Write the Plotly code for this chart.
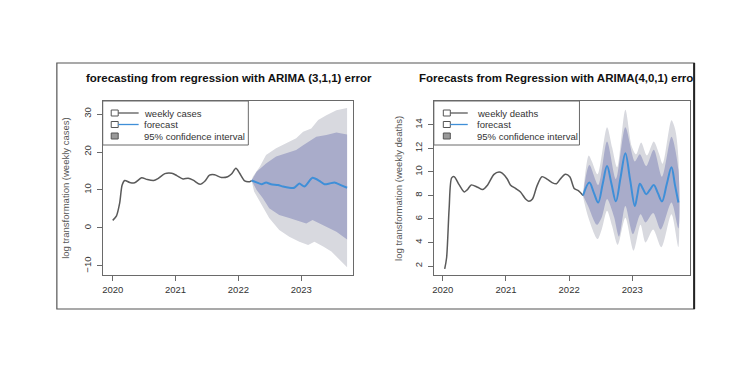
import plotly.graph_objects as go

# ---------------- data (decimal year, log value) ----------------
# Left panel: weekly cases
cases_t = [2020.00, 2020.06, 2020.11, 2020.15, 2020.19, 2020.27, 2020.35, 2020.46, 2020.54,
           2020.65, 2020.72, 2020.83, 2020.94, 2021.02, 2021.12, 2021.20, 2021.28, 2021.39,
           2021.47, 2021.54, 2021.62, 2021.73, 2021.83, 2021.89, 2021.96, 2022.02, 2022.10,
           2022.18, 2022.21]
cases_v = [2.0, 3.2, 6.5, 11.3, 12.5, 12.0, 11.9, 13.2, 12.8,
           12.5, 13.0, 14.3, 14.4, 13.8, 12.9, 13.1, 12.6, 11.5,
           12.4, 13.9, 14.0, 13.3, 13.5, 14.2, 15.7, 14.4, 12.4,
           12.2, 12.5]

cases_fc_t = [2022.21, 2022.29, 2022.37, 2022.44, 2022.52, 2022.63, 2022.71, 2022.81, 2022.89,
              2022.97, 2023.05, 2023.18, 2023.29, 2023.37, 2023.45, 2023.53, 2023.63, 2023.73]
cases_fc_v = [12.5, 12.0, 11.5, 12.0, 11.5, 11.3, 10.9, 10.6, 10.6,
              11.7, 10.9, 13.2, 12.4, 11.5, 11.7, 12.0, 11.3, 10.6]

cases_hi95_t = [2022.21, 2022.23, 2022.34, 2022.44, 2022.60, 2022.76, 2022.92, 2023.03, 2023.16,
                2023.27, 2023.40, 2023.56, 2023.73]
cases_hi95_v = [12.5, 13.5, 16.1, 19.2, 21.0, 22.3, 23.6, 25.3, 26.2, 28.4, 29.7, 31.0, 31.6]
cases_lo95_t = [2022.21, 2022.25, 2022.37, 2022.49, 2022.65, 2022.81, 2022.97, 2023.11, 2023.21,
                2023.35, 2023.48, 2023.62, 2023.73]
cases_lo95_v = [12.5, 9.6, 6.1, 2.6, -0.5, -2.3, -3.6, -4.5, -3.6, -4.9, -6.2, -8.4, -10.3]

cases_hi80_t = [2022.21, 2022.29, 2022.44, 2022.60, 2022.76, 2022.92, 2023.03, 2023.13, 2023.24,
                2023.40, 2023.56, 2023.73]
cases_hi80_v = [12.5, 14.8, 17.0, 18.8, 19.7, 20.5, 21.8, 22.9, 24.0, 24.5, 25.1, 24.6]
cases_lo80_t = [2022.21, 2022.29, 2022.39, 2022.49, 2022.65, 2022.81, 2022.97, 2023.08, 2023.18,
                2023.29, 2023.40, 2023.56, 2023.73]
cases_lo80_v = [12.5, 10.0, 7.8, 5.2, 3.4, 2.6, 1.7, 1.2, 2.1, 1.2, 0.3, -1.0, -3.0]

# Right panel: weekly deaths
deaths_t = [2020.03, 2020.06, 2020.10, 2020.14, 2020.18, 2020.26, 2020.34, 2020.39, 2020.45,
            2020.55, 2020.63, 2020.71, 2020.81, 2020.89, 2020.94, 2021.02, 2021.07, 2021.15,
            2021.23, 2021.31, 2021.36, 2021.42, 2021.49, 2021.57, 2021.65, 2021.73, 2021.80,
            2021.86, 2021.94, 2022.01, 2022.08, 2022.15, 2022.22]
deaths_v = [1.75, 2.7, 6.9, 9.5, 9.6, 8.9, 8.3, 8.5, 8.9,
            8.7, 8.5, 8.9, 9.8, 10.0, 9.9, 9.4, 8.9, 8.6,
            8.3, 7.7, 7.5, 7.7, 8.8, 9.6, 9.4, 9.1, 9.0,
            9.4, 9.8, 9.6, 8.6, 8.4, 8.0]

deaths_fc_t = [2022.22, 2022.32, 2022.39, 2022.46, 2022.53, 2022.60, 2022.67, 2022.74, 2022.815,
               2022.89, 2022.965, 2023.04, 2023.08, 2023.12, 2023.17, 2023.22, 2023.28, 2023.34,
               2023.405, 2023.47, 2023.545, 2023.62, 2023.675, 2023.73]
deaths_fc_v = [8.0, 9.1, 8.25, 7.4, 8.95, 10.5, 9.0, 7.5, 9.55,
               11.6, 9.35, 7.1, 8.05, 9.0, 8.55, 8.1, 8.5, 8.9,
               8.2, 7.5, 8.95, 10.4, 8.9, 7.4]

deaths_hi95_t = [2022.22, 2022.31, 2022.36, 2022.45, 2022.60, 2022.68, 2022.76, 2022.89, 2022.99,
                 2023.06, 2023.14, 2023.23, 2023.34, 2023.42, 2023.48, 2023.62, 2023.68, 2023.73]
deaths_hi95_v = [8.2, 11.4, 10.9, 9.8, 13.8, 12.1, 10.4, 15.3, 12.2,
                 11.5, 12.5, 11.4, 12.6, 11.6, 10.7, 14.4, 13.6, 11.2]
deaths_lo95_t = [2022.22, 2022.30, 2022.45, 2022.52, 2022.60, 2022.68, 2022.77, 2022.89, 2023.02,
                 2023.13, 2023.21, 2023.33, 2023.46, 2023.62, 2023.73]
deaths_lo95_v = [7.9, 6.2, 4.3, 5.2, 6.7, 5.4, 3.8, 6.1, 3.3,
                 5.5, 4.0, 5.1, 3.6, 6.4, 3.6]

deaths_hi80_t = [2022.22, 2022.32, 2022.46, 2022.60, 2022.74, 2022.89, 2023.04, 2023.12, 2023.22,
                 2023.34, 2023.47, 2023.62, 2023.73]
deaths_hi80_v = [8.1, 10.6, 8.9, 12.6, 9.4, 13.8, 10.9, 11.5, 10.5, 11.9, 9.6, 13.0, 10.2]
deaths_lo80_t = [2022.22, 2022.30, 2022.44, 2022.52, 2022.60, 2022.71, 2022.79, 2022.89, 2023.01,
                 2023.13, 2023.21, 2023.33, 2023.45, 2023.62, 2023.73]
deaths_lo80_v = [8.0, 7.1, 5.5, 6.2, 7.7, 6.2, 4.5, 7.1, 4.7,
                 6.4, 5.7, 6.5, 5.1, 7.4, 5.2]

year_ticks = [2020, 2021, 2022, 2023]
cases_yticks = [-10, 0, 10, 20, 30]
deaths_yticks = [2, 4, 6, 8, 10, 12, 14]

titles = ["forecasting from regression with ARIMA (3,1,1) error",
          "Forecasts from Regression with ARIMA(4,0,1) erro"]
ytitles = ["log transformation (weekly cases)", "log transformation (weekly deaths)"]
legend_labels = [["weekly cases", "forecast", "95% confidence interval"],
                 ["weekly deaths", "forecast", "95% confidence interval"]]

# ---------------- styling ----------------
W, H = 750, 375
FONT = "Liberation Sans, Arial, sans-serif"
OBS_COL = "#5a5a5a"
FC_COL = "#3f8fd8"
BAND95 = "#d8d9df"
BAND80 = "#a9acca"
BOX_COL = "#6a6a6a"


def px(x):
    return x / W


def py(y):
    return 1 - y / H


fig = go.Figure()


def band(t_hi, v_hi, t_lo, v_lo, color, xa, ya, shape):
    fig.add_trace(go.Scatter(
        x=list(t_hi) + list(reversed(t_lo)),
        y=list(v_hi) + list(reversed(v_lo)),
        fill="toself", fillcolor=color, mode="lines",
        line=dict(width=0, color=color, shape=shape, smoothing=0.8),
        xaxis=xa, yaxis=ya, showlegend=False, hoverinfo="skip"))


# left panel
band(cases_hi95_t, cases_hi95_v, cases_lo95_t, cases_lo95_v, BAND95, "x", "y", "linear")
band(cases_hi80_t, cases_hi80_v, cases_lo80_t, cases_lo80_v, BAND80, "x", "y", "linear")
fig.add_trace(go.Scatter(x=cases_t, y=cases_v, mode="lines",
                         line=dict(color=OBS_COL, width=1.5, shape="spline", smoothing=0.8),
                         xaxis="x", yaxis="y", showlegend=False))
fig.add_trace(go.Scatter(x=cases_fc_t, y=cases_fc_v, mode="lines",
                         line=dict(color=FC_COL, width=2, shape="spline", smoothing=0.6),
                         xaxis="x", yaxis="y", showlegend=False))

# right panel
band(deaths_hi95_t, deaths_hi95_v, deaths_lo95_t, deaths_lo95_v, BAND95, "x2", "y2", "spline")
band(deaths_hi80_t, deaths_hi80_v, deaths_lo80_t, deaths_lo80_v, BAND80, "x2", "y2", "spline")
fig.add_trace(go.Scatter(x=deaths_t, y=deaths_v, mode="lines",
                         line=dict(color=OBS_COL, width=1.5, shape="spline", smoothing=0.8),
                         xaxis="x2", yaxis="y2", showlegend=False))
fig.add_trace(go.Scatter(x=deaths_fc_t, y=deaths_fc_v, mode="lines",
                         line=dict(color=FC_COL, width=2, shape="spline", smoothing=1.0),
                         xaxis="x2", yaxis="y2", showlegend=False))

# ---------------- axes ----------------
box_left = [101, 433]
box_right = [352, 690]
box_top, box_bot = 101, 275

axis_common = dict(showline=True, mirror=True, linecolor=BOX_COL, linewidth=1,
                   ticks="outside", ticklen=5, tickcolor=BOX_COL, tickwidth=1,
                   showgrid=False, zeroline=False,
                   tickfont=dict(family=FONT, size=9.5, color="#333333"))

xranges = [[2019.841, 2023.825], [2019.858, 2023.916]]
yranges = [[-12.37, 33.42], [1.234, 16.04]]
ytvals = [cases_yticks, deaths_yticks]

for i in range(2):
    sx = "" if i == 0 else "2"
    fig.update_layout(**{
        "xaxis" + sx: dict(axis_common, domain=[px(box_left[i]), px(box_right[i])],
                           range=xranges[i], tickvals=year_ticks, anchor="y" + sx,
                           ticklabelstandoff=1),
        "yaxis" + sx: dict(axis_common, domain=[py(box_bot), py(box_top)],
                           range=yranges[i], tickvals=ytvals[i], tickangle=-90,
                           anchor="x" + sx, ticklabelstandoff=2),
    })

shapes = []
annotations = []

# outer frame
shapes.append(dict(type="rect", xref="paper", yref="paper",
                   x0=px(55), x1=px(694), y0=py(309), y1=py(63),
                   line=dict(color="#555555", width=1.2)))
shapes.append(dict(type="line", xref="paper", yref="paper",
                   x0=px(694), x1=px(694), y0=py(309), y1=py(63),
                   line=dict(color="#222222", width=2)))

# titles
annotations.append(dict(text="<b>" + titles[0] + "</b>", xref="paper", yref="paper",
                        x=px(228), y=py(78), xanchor="center", yanchor="middle",
                        showarrow=False, font=dict(family=FONT, size=11.5, color="#111111")))
annotations.append(dict(text="<b>" + titles[1] + "</b>", xref="paper", yref="paper",
                        x=px(416), y=py(78), xanchor="left", yanchor="middle",
                        showarrow=False, font=dict(family=FONT, size=11.5, color="#111111")))

# y-axis titles
ytitle_x = [63, 397]
for i in range(2):
    annotations.append(dict(text=ytitles[i], xref="paper", yref="paper",
                            x=px(ytitle_x[i]), y=py(188), textangle=-90,
                            xanchor="center", yanchor="middle", showarrow=False,
                            font=dict(family=FONT, size=9.5, color="#555555")))

# legends (R style)
leg_right = [247, 579]
leg_sq_x = [113, 446]
leg_line_end = [137, 467]
leg_text_x = [140, 474]
rows_y = [113, 124.5, 136]
for i in range(2):
    shapes.append(dict(type="rect", xref="paper", yref="paper",
                       x0=px(box_left[i]), x1=px(leg_right[i]), y0=py(145), y1=py(box_top),
                       line=dict(color=BOX_COL, width=1), fillcolor="rgba(0,0,0,0)"))
    line_cols = [OBS_COL, FC_COL, None]
    for r in range(3):
        yc = rows_y[r]
        sq_fill = "rgba(0,0,0,0)" if r < 2 else "#9a9a9a"
        shapes.append(dict(type="rect", xref="paper", yref="paper",
                           x0=px(leg_sq_x[i] - 3.5), x1=px(leg_sq_x[i] + 3.5),
                           y0=py(yc + 3), y1=py(yc - 3),
                           line=dict(color="#555555", width=1), fillcolor=sq_fill))
        if line_cols[r]:
            shapes.append(dict(type="line", xref="paper", yref="paper",
                               x0=px(leg_sq_x[i] + 3.5), x1=px(leg_line_end[i]),
                               y0=py(yc), y1=py(yc),
                               line=dict(color=line_cols[r], width=1.3)))
        annotations.append(dict(text=legend_labels[i][r], xref="paper", yref="paper",
                                x=px(leg_text_x[i]), y=py(yc), xanchor="left",
                                yanchor="middle", showarrow=False,
                                font=dict(family=FONT, size=9.5, color="#333333")))

fig.update_layout(width=W, height=H, margin=dict(l=0, r=0, t=0, b=0),
                  paper_bgcolor="white", plot_bgcolor="white",
                  shapes=shapes, annotations=annotations, showlegend=False)

fig.write_html("out.html", config={"displayModeBar": False},
               post_script="document.body.style.margin='0';document.body.style.overflow='hidden';")
